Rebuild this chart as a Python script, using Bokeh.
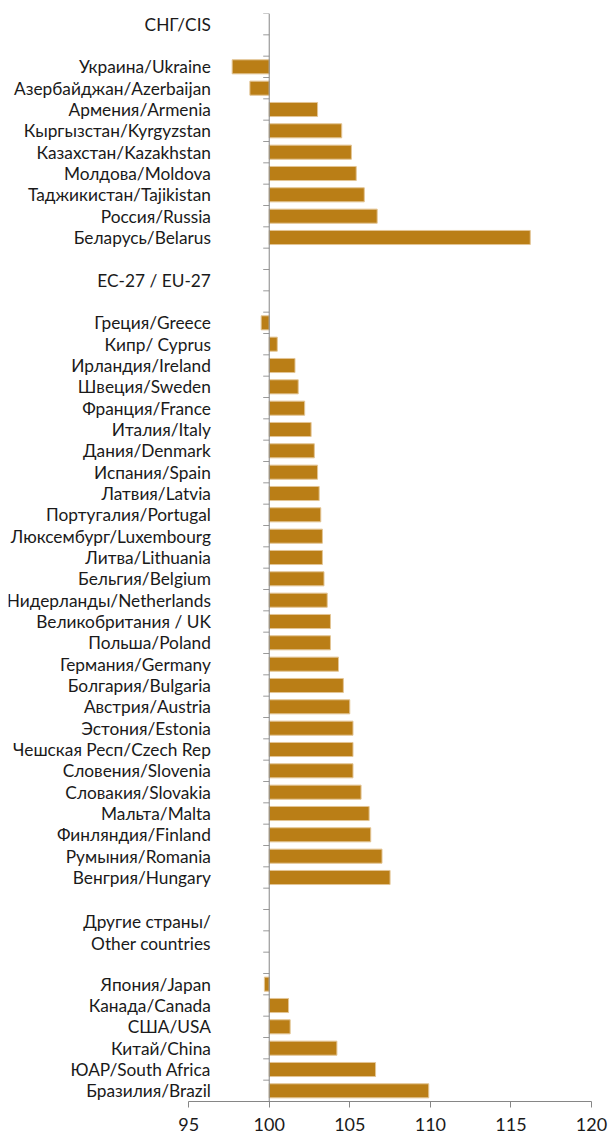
from bokeh.plotting import figure
from bokeh.models import Range1d, FixedTicker, Span, ColumnDataSource
from bokeh.core.properties import value
from bokeh.embed import file_html
from bokeh.resources import INLINE

# ---- data ----
cis_header = ["СНГ/CIS"]
cis_labels = ["Украина/Ukraine", "Азербайджан/Azerbaijan", "Армения/Armenia",
              "Кыргызстан/Kyrgyzstan", "Казахстан/Kazakhstan", "Молдова/Moldova",
              "Таджикистан/Tajikistan", "Россия/Russia", "Беларусь/Belarus"]
cis_values = [97.7, 98.8, 103.0, 104.5, 105.1, 105.4, 105.9, 106.7, 116.2]

eu_header = ["ЕС-27 / EU-27"]
eu_labels = ["Греция/Greece", "Кипр/ Cyprus", "Ирландия/Ireland", "Швеция/Sweden",
             "Франция/France", "Италия/Italy", "Дания/Denmark", "Испания/Spain",
             "Латвия/Latvia", "Португалия/Portugal", "Люксембург/Luxembourg",
             "Литва/Lithuania", "Бельгия/Belgium", "Нидерланды/Netherlands",
             "Великобритания / UK", "Польша/Poland", "Германия/Germany",
             "Болгария/Bulgaria", "Австрия/Austria", "Эстония/Estonia",
             "Чешская Респ/Czech Rep", "Словения/Slovenia", "Словакия/Slovakia",
             "Мальта/Malta", "Финляндия/Finland", "Румыния/Romania", "Венгрия/Hungary"]
eu_values = [99.5, 100.5, 101.6, 101.8, 102.2, 102.6, 102.8, 103.0, 103.1, 103.2,
             103.3, 103.3, 103.4, 103.6, 103.8, 103.8, 104.3, 104.6, 105.0, 105.2,
             105.2, 105.2, 105.7, 106.2, 106.3, 107.0, 107.5]

other_header = ["Другие страны/", "Other countries"]
other_labels = ["Япония/Japan", "Канада/Canada", "США/USA", "Китай/China",
                "ЮАР/South Africa", "Бразилия/Brazil"]
other_values = [99.7, 101.2, 101.3, 104.2, 106.6, 109.9]

x_ticks = [95, 100, 105, 110, 115, 120]
baseline = 100

# ---- row layout ----
label_text, label_row = [], []
bar_row, bar_val = [], []
row = -2
for header, labels, vals in [(cis_header, cis_labels, cis_values),
                             (eu_header, eu_labels, eu_values),
                             (other_header, other_labels, other_values)]:
    shift = 0.08 if len(header) > 1 else 0.0
    for h in header:
        label_text.append(h)
        label_row.append(row + shift)
        row += 1
    row += 1  # blank row
    for lab, v in zip(labels, vals):
        label_text.append(lab)
        label_row.append(row)
        bar_row.append(row)
        bar_val.append(v)
        row += 1
    row += 1  # blank row after section
last_row = bar_row[-1]
first_row = -2

PX_PER_UNIT = 16.1
x_start = 95 - 180 / PX_PER_UNIT

p = figure(width=610, height=1141, output_backend="svg", toolbar_location=None,
           x_range=Range1d(x_start, 120),
           y_range=Range1d(last_row + 0.5, first_row - 0.5),
           min_border_left=8, min_border_right=19, min_border_top=13,
           min_border_bottom=40)
p.outline_line_color = None
p.xgrid.visible = False
p.ygrid.visible = False
p.yaxis.visible = False

ax = p.xaxis[0]
ax.ticker = FixedTicker(ticks=x_ticks)
ax.bounds = (x_ticks[0], x_ticks[-1])
ax.axis_line_color = "#868686"
ax.major_tick_line_color = "#868686"
ax.major_tick_out = 6
ax.major_tick_in = 0
ax.minor_tick_line_color = None
ax.major_label_text_font = "Lato"
ax.major_label_text_font_size = "18px"
ax.major_label_text_color = "#1a1a1a"
ax.major_label_standoff = 10

# bars
src = ColumnDataSource(dict(y=bar_row, right=bar_val, left=[baseline] * len(bar_val)))
p.hbar(y="y", left="left", right="right", height=0.66, source=src,
       fill_color="#BA7E16", line_color="#E3C595", line_width=1)

# category axis at baseline
p.add_layout(Span(location=baseline, dimension="height", line_color="#868686", line_width=1))
tick_y = [first_row - 0.5 + i for i in range(int(last_row - first_row) + 1)]
tick_len = 6 / PX_PER_UNIT
p.segment(x0=[baseline - tick_len] * len(tick_y), x1=[baseline] * len(tick_y),
          y0=tick_y, y1=tick_y, line_color="#9a9a9a", line_width=1)

# category labels
lsrc = ColumnDataSource(dict(x=[baseline - 58.3 / PX_PER_UNIT] * len(label_text),
                             y=label_row, t=label_text))
p.text(x="x", y="y", text="t", source=lsrc, text_align="right", text_baseline="middle",
       text_font=value("Lato"), text_font_size="17.3px", text_color="#1a1a1a")

open("out.html", "w").write(file_html(p, INLINE))
